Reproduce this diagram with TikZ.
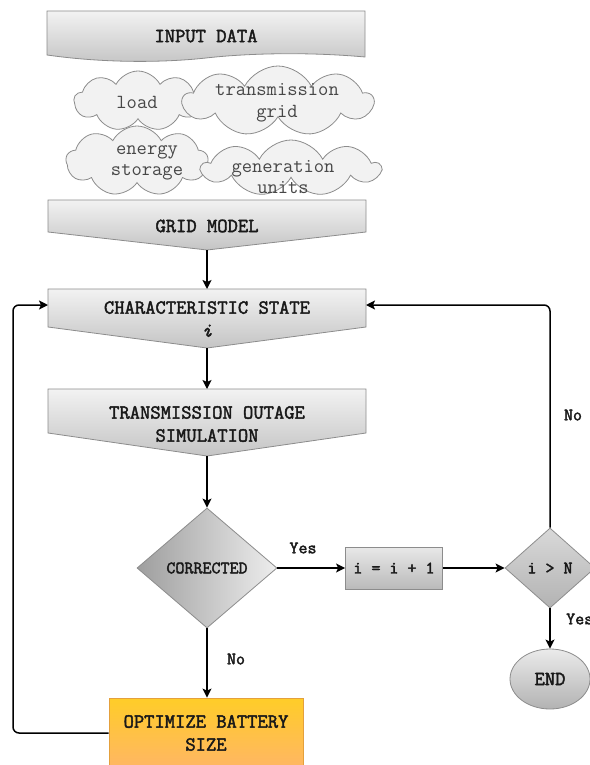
\documentclass[tikz,border=0pt]{standalone}
\usepackage{fontspec}
\newfontfamily\courb{Latin Modern Mono}[FakeBold=2.2]
\newfontfamily\courr{Latin Modern Mono}
\usetikzlibrary{shapes.geometric,shapes.symbols,arrows.meta}
\definecolor{edgegray}{gray}{0.55}
\definecolor{lightfill}{gray}{0.95}
\definecolor{darkfill}{gray}{0.77}
\definecolor{optTop}{RGB}{255,205,40}
\definecolor{optBot}{RGB}{255,182,100}
\definecolor{optEdge}{RGB}{228,160,60}
\begin{document}
\begin{tikzpicture}[x=1pt,y=-1pt,
  big/.style={font=\courb\fontsize{20}{23}\selectfont, text=black!90, align=center, inner sep=0},
  small/.style={font=\courb\fontsize{17.5}{18}\selectfont, text=black!90, inner sep=0},
  cloudtxt/.style={font=\courr\fontsize{20}{21.5}\selectfont, text=black!72, align=center, inner sep=0},
  flowbox/.style={draw=edgegray, line width=0.8pt, top color=lightfill, bottom color=darkfill},
  puff/.style={cloud, cloud puffs=9, cloud puff arc=125, cloud ignores aspect, draw=edgegray, fill=black!5, line width=0.8pt, inner sep=0},
  arr/.style={draw=black, line width=1.5pt, -{Stealth[length=9pt,width=9pt,inset=2pt]}},
  link/.style={arr, rounded corners=6pt},
]
\useasboundingbox (0,0) rectangle (589,765);

% INPUT DATA document shape
\path[flowbox] (47,11) -- (365,11) -- (365,57)
  .. controls (310,52) and (250,53) .. (206,58)
  .. controls (170,62) and (110,64) .. (47,55) -- cycle;
\node[big] (inp) at (206,36) {INPUT DATA};

% clouds
\node[puff, minimum width=128, minimum height=60] (cload) at (138,101) {};
\node[puff, minimum width=190, minimum height=70] (cgrid) at (278,101) {};
\node[puff, minimum width=142, minimum height=70] (cstor) at (137,161) {};
\node[puff, minimum width=178, minimum height=56] (cgen) at (291,168) {};
\node[cloudtxt] (tload) at (137,102) {load};
\node[cloudtxt] (tgrid) at (277,103) {transmission\\grid};
\node[cloudtxt] (tstor) at (147,163) {energy\\storage};
\node[cloudtxt] (tgen) at (283,177) {generation\\units};

% GRID MODEL
\path[flowbox] (48,200) -- (366,200) -- (366,232) -- (207,250) -- (48,232) -- cycle;
\node[big] (grid) at (207,226) {GRID MODEL};
\coordinate (gridtip) at (207,250);

% CHARACTERISTIC STATE
\path[flowbox] (48,289) -- (366,289) -- (366,327) -- (207,348) -- (48,327) -- cycle;
\node[big] (char) at (207,319) {CHARACTERISTIC STATE\\\textit{i}};
\coordinate (chartop) at (207,289);
\coordinate (chartip) at (207,348);
\coordinate (charw) at (48,305);
\coordinate (chare) at (366,305);

% TRANSMISSION OUTAGE SIMULATION
\path[flowbox] (48,389) -- (366,389) -- (366,433) -- (207,456) -- (48,433) -- cycle;
\node[big] (trans) at (207,424) {TRANSMISSION OUTAGE\\SIMULATION};
\coordinate (transtop) at (207,389);
\coordinate (transtip) at (207,456);

% decisions and steps
\node[diamond, aspect=1.167, minimum width=140, minimum height=120, inner sep=0,
      draw=edgegray, line width=0.8pt, left color=black!38, right color=black!7, small] (corr) at (207,568) {CORRECTED};
\node[rectangle, minimum width=97, minimum height=42, inner sep=0,
      draw=edgegray, line width=0.8pt, top color=black!9, bottom color=black!27, small] (inc) at (394,568) {i = i + 1};
\node[diamond, aspect=1.125, minimum width=90, minimum height=80, inner sep=0,
      draw=edgegray, line width=0.8pt, top color=black!15, bottom color=black!30, small] (cmp) at (550,568) {i > N};
\node[ellipse, minimum width=80, minimum height=60, inner sep=0,
      draw=edgegray, line width=0.8pt, top color=black!8, bottom color=black!30, big] (endn) at (550,679) {END};
\node[rectangle, minimum width=194, minimum height=70, inner sep=0,
      draw=optEdge, line width=0.8pt, top color=optTop, bottom color=optBot, big] (opt) at (206,733) {OPTIMIZE BATTERY\\SIZE};

% connectors
\draw[arr] (gridtip) -- (chartop);
\draw[arr] (chartip) -- (transtop);
\draw[arr] (transtip) -- (corr.north);
\draw[arr] (corr.east) -- (inc.west);
\draw[arr] (inc.east) -- (cmp.west);
\draw[arr] (cmp.south) -- (endn.north);
\draw[arr] (corr.south) -- (corr.south |- opt.north);
\draw[link] (cmp.north) |- (chare);
\draw[link] (opt.west) -- (13,733) |- (charw);

% labels
\node[small] (lyes1) at (303,548) {Yes};
\node[small] (lno1) at (236,659) {No};
\node[small] (lno2) at (573,415) {No};
\node[small, anchor=west] (lyes2) at (566,619) {Yes};
\end{tikzpicture}
\end{document}
